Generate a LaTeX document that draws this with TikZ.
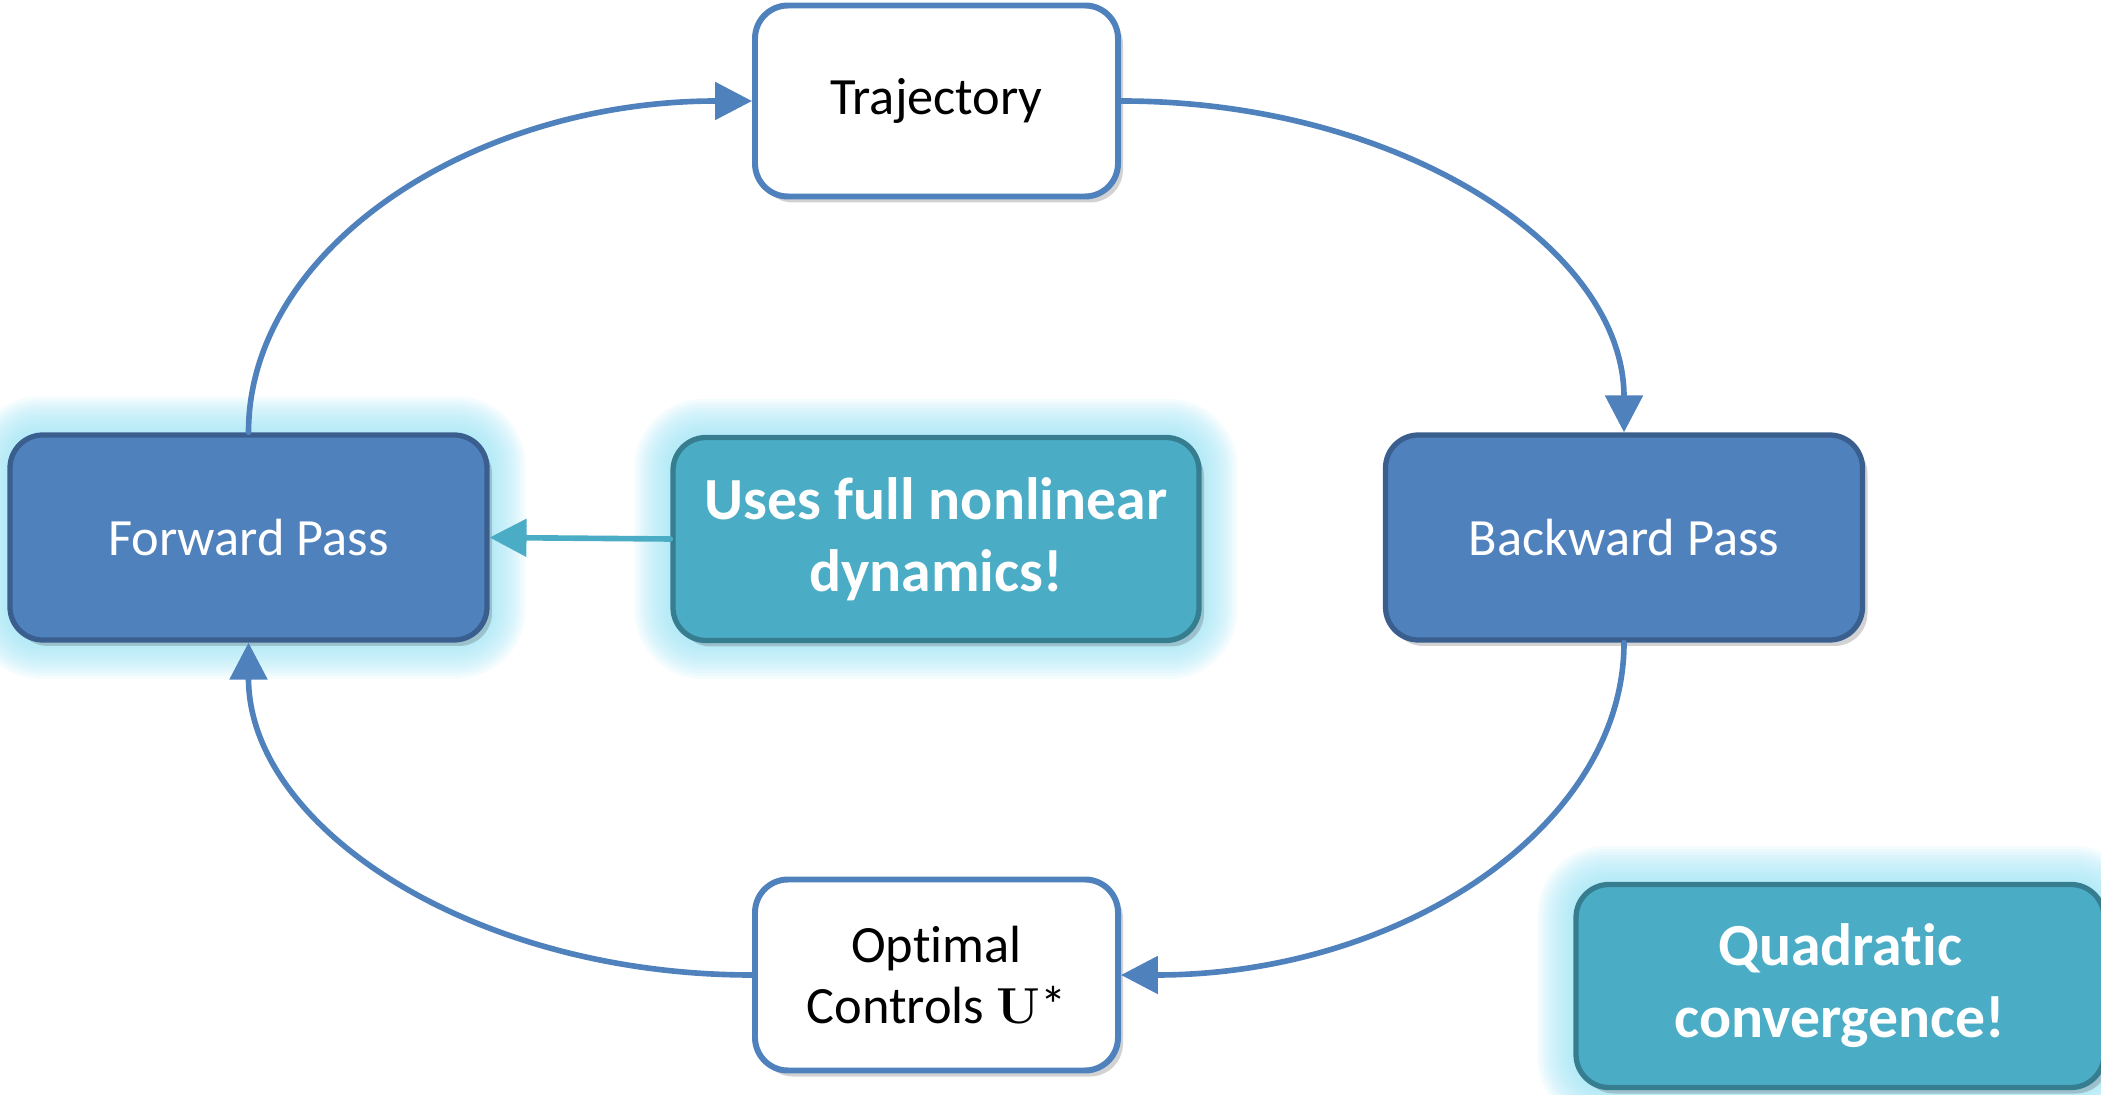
\documentclass[tikz,border=0pt]{standalone}
\usepackage[no-math]{fontspec}
\setmainfont{Carlito}[Ligatures=NoCommon]
\usetikzlibrary{arrows.meta,calc,shadows,backgrounds}
\definecolor{cblue}{HTML}{4F81BD}
\definecolor{cdark}{HTML}{3A5F8E}
\definecolor{cteal}{HTML}{4BACC6}
\definecolor{cteald}{HTML}{367D90}
\definecolor{cglow}{HTML}{9CE3F5}

\begin{document}
\begin{tikzpicture}[line cap=round, line join=round,
  box/.style={rounded corners=0.33cm, line width=1.5pt, align=center, inner sep=0pt,
    drop shadow={shadow xshift=0.05cm, shadow yshift=-0.06cm, opacity=0.25, fill=black!70}},
  passbox/.style={box, fill=cblue, draw=cdark, text=white,
    font=\fontsize{14.9}{17.5}\selectfont, minimum width=4.77cm, minimum height=2.05cm},
  databox/.style={box, fill=white, draw=cblue, line width=1.7pt, text=black,
    font=\fontsize{14.9}{17.5}\selectfont, minimum width=3.63cm, minimum height=1.91cm},
  notebox/.style={box, fill=cteal, draw=cteald, text=white,
    font=\bfseries\fontsize{17}{20.5}\selectfont, minimum height=2.03cm},
  flow/.style={cblue, line width=1.6pt, -{Triangle[length=10.5pt,width=10.5pt]}}]
  \useasboundingbox (0,0) rectangle (21.01,-10.95);

  % ---------- boxes ----------
  \node[databox] (traj) at (9.365,-1.01) {Trajectory};
  \node[passbox] (fwd) at (2.485,-5.375) {Forward Pass};
  \node[passbox] (bwd) at (16.24,-5.375) {Backward Pass};
  \node[databox] (opt) at (9.365,-9.75) {Optimal\\Controls $\mathbf{U}$*};
  \node[notebox, minimum width=5.26cm] (nonlin) at (9.36,-5.39) {Uses full nonlinear\\dynamics!};
  \node[notebox, minimum width=5.28cm] (quad) at (18.40,-9.86) {Quadratic\\convergence!};

  % ---------- glow ----------
  \begin{scope}[on background layer]
    \foreach \n in {fwd,nonlin,quad}
      \foreach \r in {0.03,0.06,...,0.37}
        \fill[cglow, opacity=0.1, rounded corners=0.33cm+\r cm]
          ($(\n.south west)+(-\r,-\r)$) rectangle ($(\n.north east)+(\r,\r)$);
  \end{scope}

  % ---------- loop ----------
  \draw[flow] (fwd.north) .. controls +(0,1.84) and +(-2.8,0) .. (traj.west);
  \draw[flow] (traj.east) .. controls +(2.8,0) and +(0,1.84) .. (bwd.north);
  \draw[flow] (bwd.south) .. controls +(0,-1.84) and +(2.8,0) .. (opt.east);
  \draw[flow] (opt.west) .. controls +(-2.8,0) and +(0,-1.84) .. (fwd.south);
  \draw[flow, cteal] (nonlin.west) -- (fwd.east);
\end{tikzpicture}
\end{document}
